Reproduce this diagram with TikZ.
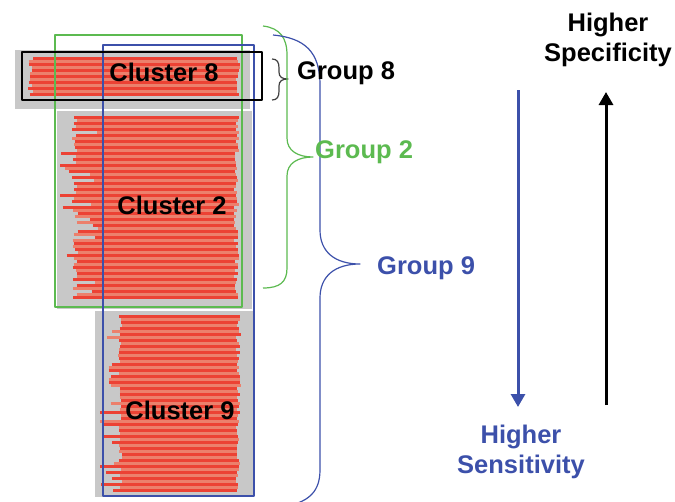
\documentclass[tikz,border=0pt]{standalone}
\usepackage{fontspec}
\setmainfont{Liberation Sans}
\usetikzlibrary{positioning,calc,arrows.meta}

\definecolor{grpgreen}{RGB}{92,186,80}
\definecolor{grpblue}{RGB}{60,80,170}
\definecolor{barred}{RGB}{236,66,52}
\definecolor{barsalmon}{RGB}{236,128,108}
\definecolor{panelgray}{RGB}{200,200,200}

\begin{document}
\begin{tikzpicture}[x=1pt,y=-1pt,line join=round,font=\fontsize{25.5}{30}\selectfont\bfseries]
	\tikzstyle{label} = [inner sep=0pt,text=black]
	\tikzstyle{box} = [draw,line width=2pt]
	\tikzstyle{bracket} = [line width=1.2pt]
	\tikzstyle{readbar} = [line width=3pt]
	\tikzstyle{trend} = [line width=3pt,-{Triangle[length=13pt,width=14pt]}]

	\useasboundingbox (0,0) rectangle (675,501);

	% gray panels behind each cluster
	\fill[panelgray] (15,50) rectangle (250,109);
	\fill[panelgray] (57,111) rectangle (252,309);
	\fill[panelgray] (95,311) rectangle (253,497);

	% read bars, one per sequence
	\pgfmathsetseed{7}
	\foreach \y [count=\i] in {58,61,...,96} {
		\ifodd\i \def\bc{barred}\else \def\bc{barsalmon}\fi
		\pgfmathsetmacro{\xl}{28+6*rnd}
		\pgfmathsetmacro{\xr}{236+4*rnd}
		\draw[readbar,\bc] (\xl,\y) -- (\xr,\y);
	}
	\foreach \y [count=\i] in {117,120,...,299} {
		\ifodd\i \def\bc{barred}\else \def\bc{barsalmon}\fi
		\pgfmathsetmacro{\r}{rnd}
		\pgfmathsetmacro{\xl}{\r<0.12 ? 60+10*rnd : (\r<0.25 ? 86+12*rnd : 72+6*rnd)}
		\pgfmathsetmacro{\xr}{234+5*rnd}
		\draw[readbar,\bc] (\xl,\y) -- (\xr,\y);
	}
	\foreach \y [count=\i] in {316,319,...,492} {
		\ifodd\i \def\bc{barred}\else \def\bc{barsalmon}\fi
		\pgfmathsetmacro{\r}{rnd}
		\pgfmathsetmacro{\xl}{\r<0.15 ? 100+10*rnd : (\r<0.3 ? 108+6*rnd : 118+4*rnd)}
		\pgfmathsetmacro{\xr}{236+5*rnd}
		\draw[readbar,\bc] (\xl,\y) -- (\xr,\y);
	}

	% group frames
	\draw[box,grpgreen] (55,35) rectangle (242,307);
	\draw[box,grpblue] (103,45) rectangle (254,496);
	\draw[box,black,line width=2.6pt] (22,52) rectangle (262,100);

	\node[label] (C8) at (164,72) {Cluster 8};
	\node[label] (C2) at (172,205) {Cluster 2};
	\node[label] (C9) at (180,410) {Cluster 9};

	% braces
	\draw[bracket,black!75] (272,59) .. controls (277,59) and (279,62) .. (279,68) -- (279,72) .. controls (279,77) and (282,79) .. (288,79) .. controls (282,79) and (279,81) .. (279,86) -- (279,91) .. controls (279,97) and (277,100) .. (272,100);
	\draw[bracket,grpgreen] (263,26) .. controls (280,28) and (287,38) .. (287,55) -- (287,138) .. controls (287,151) and (298,157) .. (313,157) .. controls (298,157) and (287,163) .. (287,176) -- (287,268) .. controls (287,282) and (280,288) .. (263,288);
	\draw[bracket,grpblue] (273,35) .. controls (305,38) and (320,52) .. (320,85) -- (320,230) .. controls (320,252) and (335,264) .. (360,264) .. controls (335,264) and (320,276) .. (320,298) -- (320,470) .. controls (320,495) and (305,505) .. (273,508);

	\node[label,anchor=west] (G8) at (297,73) {Group 8};
	\node[label,anchor=west,text=grpgreen] (G2) at (315,152) {Group 2};
	\node[label,anchor=west,text=grpblue] (G9) at (377,268) {Group 9};

	% sensitivity / specificity trends
	\node[label,align=center] (spec) at (608,40) {Higher\\Specificity};
	\node[label,align=center,text=grpblue] (sens) at (521,452) {Higher\\Sensitivity};
	\coordinate (senstop) at (518,90);
	\coordinate (sensend) at (518,407);
	\coordinate (specbot) at (606,405);
	\coordinate (specend) at (606,92);
	\draw[trend,grpblue] (senstop) -- (sensend);
	\draw[trend,black] (specbot) -- (specend);
\end{tikzpicture}
\end{document}
